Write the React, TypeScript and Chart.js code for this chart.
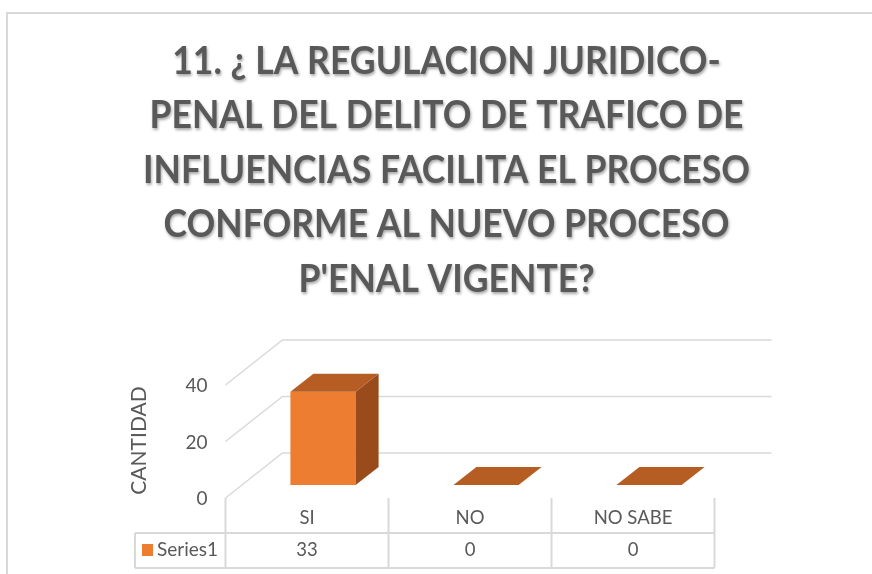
import React, { useEffect, useRef } from "react";
import { Chart, registerables } from "chart.js";

Chart.register(...registerables);

const TITLE_LINES = [
  "11. ¿ LA REGULACION JURIDICO-",
  "PENAL DEL DELITO DE TRAFICO DE",
  "INFLUENCIAS FACILITA EL PROCESO",
  "CONFORME AL NUEVO PROCESO",
  "P'ENAL VIGENTE?",
];
const CATEGORIES = ["SI", "NO", "NO SABE"];
const SERIES_NAME = "Series1";
const SERIES_VALUES = [33, 0, 0];
const Y_TICKS = [0, 20, 40];
const Y_TITLE = "CANTIDAD";

const FRONT = { dx: -16, dy: 13 };
const BACK = { dx: 41, dy: -32 };
const DEPTH = { dx: 23, dy: -18 };
const GRID = "#d9d9d9";
const TEXT = "#595959";
const FONT = "Lato, 'Open Sans', sans-serif";

const excel3d = {
  id: "excel3d",
  beforeDatasetsDraw(chart: any) {
    const ctx = chart.ctx as CanvasRenderingContext2D;
    const xs = chart.scales.x;
    const ys = chart.scales.y;
    ctx.save();
    // outer border
    ctx.strokeStyle = GRID;
    ctx.lineWidth = 2;
    ctx.beginPath();
    ctx.moveTo(7, 700);
    ctx.lineTo(7, 13);
    ctx.lineTo(1000, 13);
    ctx.stroke();

    // title
    ctx.font = `bold 38px ${FONT}`;
    const w3 = ctx.measureText(TITLE_LINES[2]).width;
    const sx = 607 / w3;
    const centers = [60, 114.5, 169, 223.5, 278];
    ctx.fillStyle = TEXT;
    ctx.shadowColor = "rgba(0,0,0,0.35)";
    ctx.shadowOffsetX = 1;
    ctx.shadowOffsetY = 2;
    ctx.shadowBlur = 3;
    ctx.textAlign = "center";
    ctx.textBaseline = "alphabetic";
    TITLE_LINES.forEach((line, i) => {
      ctx.save();
      ctx.translate(446.5, centers[i] + 13.5);
      ctx.scale(sx, 1);
      ctx.fillText(line, 0, 0);
      ctx.restore();
    });
    ctx.shadowColor = "transparent";
    ctx.shadowBlur = 0;
    ctx.shadowOffsetX = 0;
    ctx.shadowOffsetY = 0;

    // grid: side wall diagonals + back wall lines
    const left = xs.left;
    const right = xs.right;
    ctx.strokeStyle = GRID;
    ctx.lineWidth = 1.5;
    ctx.font = `19px ${FONT}`;
    for (const v of Y_TICKS) {
      const py = ys.getPixelForValue(v);
      ctx.beginPath();
      ctx.moveTo(left + FRONT.dx, py + FRONT.dy);
      ctx.lineTo(left + BACK.dx, py + BACK.dy);
      ctx.lineTo(right + BACK.dx, py + BACK.dy);
      ctx.stroke();
      ctx.textAlign = "right";
      ctx.textBaseline = "middle";
      ctx.fillStyle = TEXT;
      ctx.fillText(String(v), left + FRONT.dx - 18, py + FRONT.dy + 1);
    }

    // axis title
    const yTop = ys.getPixelForValue(40) + FRONT.dy;
    const yBot = ys.getPixelForValue(0) + FRONT.dy;
    ctx.save();
    ctx.font = `21px ${FONT}`;
    ctx.translate(139, (yTop + yBot) / 2 - 1);
    ctx.rotate(-Math.PI / 2);
    ctx.textAlign = "center";
    ctx.textBaseline = "middle";
    ctx.fillText(Y_TITLE, 0, 0);
    ctx.restore();

    // data table
    const cw = (right - left) / CATEGORIES.length;
    const x0 = left + FRONT.dx;
    const base = yBot;
    const rowDiv = base + 35;
    const rowBot = base + 70;
    const legLeft = 135;
    ctx.strokeStyle = GRID;
    ctx.lineWidth = 2;
    for (let i = 0; i <= CATEGORIES.length; i++) {
      const x = x0 + i * cw;
      ctx.beginPath();
      ctx.moveTo(x, base);
      ctx.lineTo(x, rowBot);
      ctx.stroke();
    }
    ctx.beginPath();
    ctx.moveTo(legLeft, rowDiv);
    ctx.lineTo(x0 + CATEGORIES.length * cw, rowDiv);
    ctx.moveTo(legLeft, rowBot);
    ctx.lineTo(x0 + CATEGORIES.length * cw, rowBot);
    ctx.moveTo(legLeft, rowDiv);
    ctx.lineTo(legLeft, rowBot);
    ctx.stroke();

    ctx.font = `18.5px ${FONT}`;
    ctx.fillStyle = TEXT;
    ctx.textAlign = "center";
    ctx.textBaseline = "middle";
    CATEGORIES.forEach((c, i) => {
      const cx = xs.getPixelForValue(i) + FRONT.dx;
      ctx.fillText(c, cx, base + 20);
      ctx.fillText(String(SERIES_VALUES[i]), cx, base + 52);
    });
    ctx.fillStyle = "#ED7D31";
    ctx.fillRect(142, base + 46, 11, 12);
    ctx.fillStyle = TEXT;
    ctx.textAlign = "left";
    ctx.font = `19px ${FONT}`;
    ctx.fillText(SERIES_NAME, 157, base + 52);
    ctx.restore();
  },
  afterDatasetsDraw(chart: any) {
    const ctx = chart.ctx as CanvasRenderingContext2D;
    const meta = chart.getDatasetMeta(0);
    ctx.save();
    meta.data.forEach((bar: any) => {
      const { x, y, base, width } = bar.getProps(["x", "y", "base", "width"], true);
      const l = x - width / 2;
      const r = x + width / 2;
      if (base - y > 0.5) {
        ctx.fillStyle = "#9A4B1B";
        ctx.beginPath();
        ctx.moveTo(r, y);
        ctx.lineTo(r + DEPTH.dx, y + DEPTH.dy);
        ctx.lineTo(r + DEPTH.dx, base + DEPTH.dy);
        ctx.lineTo(r, base);
        ctx.closePath();
        ctx.fill();
      }
      ctx.fillStyle = "#B55D22";
      ctx.beginPath();
      ctx.moveTo(l, y);
      ctx.lineTo(r, y);
      ctx.lineTo(r + DEPTH.dx, y + DEPTH.dy);
      ctx.lineTo(l + DEPTH.dx, y + DEPTH.dy);
      ctx.closePath();
      ctx.fill();
    });
    ctx.restore();
  },
};

export default function App() {
  const ref = useRef<HTMLCanvasElement>(null);
  useEffect(() => {
    if (!ref.current) return;
    const chart = new Chart(ref.current, {
      type: "bar",
      data: {
        labels: CATEGORIES,
        datasets: [
          {
            label: SERIES_NAME,
            data: SERIES_VALUES,
            backgroundColor: "#ED7D31",
            borderWidth: 0,
            categoryPercentage: 1,
            barPercentage: 0.4,
          },
        ],
      },
      options: {
        responsive: false,
        animation: false,
        layout: { padding: { left: 241.5, right: 141.5, top: 372, bottom: 89 } },
        scales: {
          x: { display: false },
          y: { display: false, min: 0, max: 40 },
        },
        plugins: {
          legend: { display: false },
          title: { display: false },
          tooltip: { enabled: false },
        },
      },
      plugins: [excel3d],
    });
    return () => chart.destroy();
  }, []);
  return (
    <div style={{ position: "fixed", left: 0, top: 0, width: 872, height: 574, background: "#fff" }}>
      <canvas ref={ref} width={872} height={574} style={{ display: "block", width: 872, height: 574 }} />
    </div>
  );
}
